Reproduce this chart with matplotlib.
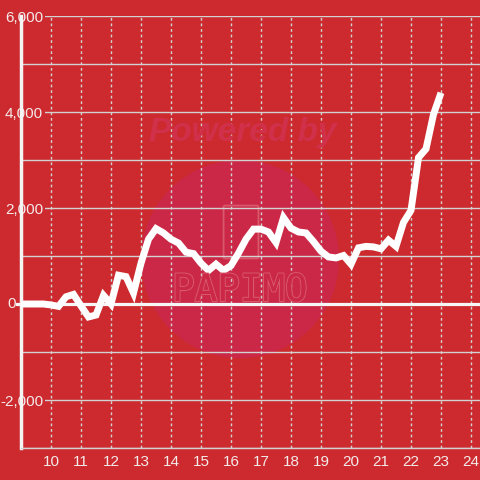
import numpy as np
import matplotlib.pyplot as plt
import matplotlib.patheffects as pe
from matplotlib.patches import Circle, FancyBboxPatch
from matplotlib.transforms import blended_transform_factory

# hour of day / value
hours = [9.0, 9.25, 9.5, 9.75, 10.0, 10.25, 10.5, 10.75, 11.0, 11.25, 11.5, 11.75,
         12.0, 12.25, 12.5, 12.75, 13.0, 13.25, 13.5, 13.75, 14.0, 14.25, 14.5, 14.75,
         15.0, 15.25, 15.5, 15.75, 16.0, 16.25, 16.5, 16.75, 17.0, 17.25, 17.5, 17.75,
         18.0, 18.25, 18.5, 18.75, 19.0, 19.25, 19.5, 19.75, 20.0, 20.25, 20.5, 20.75,
         21.0, 21.25, 21.5, 21.75, 22.0, 22.25, 22.5, 22.75, 23.0]
values = [0, 0, 0, 0, -20, -50, 150, 200, -40, -270, -230, 180,
          0, 600, 570, 230, 850, 1350, 1570, 1480, 1350, 1270, 1080, 1050,
          850, 700, 830, 700, 800, 1060, 1350, 1560, 1560, 1500, 1280, 1800,
          1580, 1500, 1480, 1300, 1100, 980, 960, 1010, 830, 1170, 1200, 1190,
          1150, 1330, 1200, 1700, 1950, 3050, 3230, 3950, 4400]

xticks = list(range(10, 25))
yticks = [-2000, 2000, 4000, 6000]
ytick_labels = ['-2,000', '2,000', '4,000', '6,000']
zero_label = '0'

bg = '#cc2a2e'
grid_col = '#d2d2d2'
txt_col = '#f4eaea'

plt.rcParams['font.family'] = ['Liberation Sans', 'DejaVu Sans']

fig = plt.figure(figsize=(4.8, 4.8), dpi=100, facecolor=bg)
ax = fig.add_axes([21/480, 32/480, 459/480, 432/480])
ax.set_facecolor(bg)

# watermark
ax.add_patch(Circle((240/480, 1 - 259/480), 99/480, transform=fig.transFigure,
                    facecolor='#cb2848', edgecolor='none', zorder=0.1))
fig.text(243/480, 1 - 133/480, 'Powered by', color='#d0304a', fontsize=24,
         fontweight='bold', style='italic', ha='center', va='center', zorder=0.2)
ax.add_patch(FancyBboxPatch((225/480, 1 - 257/480), 32/480, 50/480,
                            boxstyle='round,pad=0.003', transform=fig.transFigure,
                            facecolor='none', edgecolor='#d9596b', lw=1.3, zorder=0.2))
t = fig.text(240/480, 1 - 291/480, 'PAPIMO', color='#cb2848', fontsize=27,
             family='DejaVu Sans Mono', ha='center', va='center', zorder=0.2)
t.set_path_effects([pe.withStroke(linewidth=1.6, foreground='#d9596b'), pe.Normal()])

ax.set_xlim(9, 9 + 459/30)
ax.set_ylim(-3000, 6000)

ax.set_xticks(xticks)
ax.set_yticks(yticks)
ax.set_yticklabels(ytick_labels)
ax.set_yticks(np.arange(-3000, 6001, 1000), minor=True)

ax.grid(axis='y', which='both', color=grid_col, lw=1, ls='-')
ax.grid(axis='x', which='major', color=grid_col, lw=1, ls=(0, (2, 2)))

ax.tick_params(axis='both', which='both', length=0, colors=txt_col, labelsize=11)
ax.tick_params(axis='y', pad=-16)
ax.tick_params(axis='x', pad=5)
for lab in ax.get_yticklabels():
    lab.set_bbox(dict(facecolor=bg, edgecolor='none', pad=1.5))

for s in ['top', 'right']:
    ax.spines[s].set_visible(False)
ax.spines['left'].set_color('#f4f4f4')
ax.spines['left'].set_linewidth(2.5)
ax.spines['bottom'].set_color(grid_col)
ax.spines['bottom'].set_linewidth(1)

# zero line sticks out a bit past the axis, "0" sits left of it
ax.axhline(0, xmin=-4/459, xmax=1, color='#f6f6f6', lw=2.3, zorder=3, clip_on=False)
trans = blended_transform_factory(fig.transFigure, ax.transData)
ax.text(12/480, 0, zero_label, transform=trans, color=txt_col, fontsize=11,
        ha='center', va='center', zorder=5)

ax.plot(hours, values, color='white', lw=5, zorder=4,
        solid_joinstyle='miter', solid_capstyle='butt')

fig.savefig('out.png', dpi=100, facecolor=bg)
